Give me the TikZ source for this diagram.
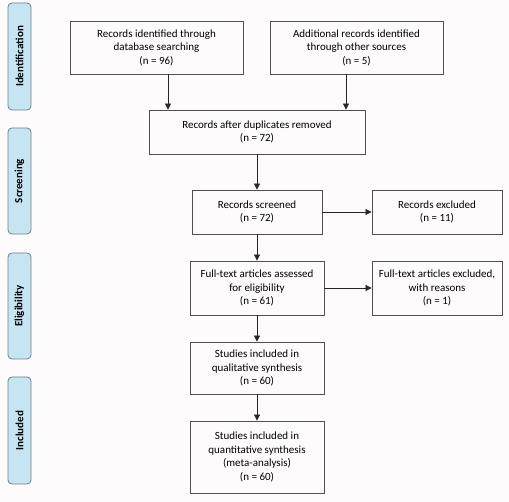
\documentclass[tikz,border=0pt]{standalone}
\usepackage{fontspec}
\setmainfont{Carlito}
\usetikzlibrary{arrows.meta}
\definecolor{lblfill}{HTML}{C6E5F3}
\definecolor{lbldraw}{HTML}{6F7F88}
\definecolor{boxdraw}{HTML}{505050}
\definecolor{bg}{HTML}{FDFBFC}
\tikzset{
  flowbox/.style={draw=boxdraw, line width=0.8pt, align=center, font=\fontsize{11}{13.5}\selectfont, inner sep=0pt},
  phase/.style={draw=lbldraw, fill=lblfill, line width=0.8pt, rounded corners=4pt, inner sep=0pt, minimum height=23pt, font=\bfseries\fontsize{11}{12}\selectfont, rotate=90},
  flow/.style={draw=black!85, line width=0.7pt, -{Triangle[length=6pt,width=6pt]}}
}
\begin{document}
\begin{tikzpicture}[x=1pt,y=-1pt]
\fill[bg] (0,0) rectangle (509,502);
\useasboundingbox (0,0) rectangle (509,502);
% phase labels
\node[phase, minimum width=107pt] (pid) at (19.5,56.5) {Identification};
\node[phase, minimum width=106pt] (psc) at (19.5,181) {Screening};
\node[phase, minimum width=106pt] (pel) at (19.5,306) {Eligibility};
\node[phase, minimum width=107pt] (pin) at (19.5,430.5) {Included};
% boxes
\node[flowbox, minimum width=173pt, minimum height=53pt] (db) at (156.5,47.5) {Records identified through\\database searching\\(n = 96)};
\node[flowbox, minimum width=173pt, minimum height=53pt] (oth) at (356.5,47.5) {Additional records identified\\through other sources\\(n = 5)};
\node[flowbox, minimum width=216pt, minimum height=44pt] (dup) at (257,132) {Records after duplicates removed\\(n = 72)};
\node[flowbox, minimum width=130pt, minimum height=44pt] (scr) at (257,212) {Records screened\\(n = 72)};
\node[flowbox, minimum width=130pt, minimum height=44pt] (exc) at (437,212) {Records excluded\\(n = 11)};
\node[flowbox, minimum width=134pt, minimum height=54pt] (ft) at (257,288) {Full-text articles assessed\\for eligibility\\(n = 61)};
\node[flowbox, minimum width=130pt, minimum height=54pt] (ftx) at (437,288) {Full-text articles excluded,\\with reasons\\(n = 1)};
\node[flowbox, minimum width=134pt, minimum height=52pt] (qual) at (257,368) {Studies included in\\qualitative synthesis\\(n = 60)};
\node[flowbox, minimum width=134pt, minimum height=72pt] (quant) at (257,457) {Studies included in\\quantitative synthesis\\(meta-analysis)\\(n = 60)};
% connectors
\draw[flow] (db.south -| 168,0) -- (dup.north -| 168,0);
\draw[flow] (oth.south -| 346,0) -- (dup.north -| 346,0);
\draw[flow] (dup) -- (scr);
\draw[flow] (scr) -- (exc);
\draw[flow] (scr) -- (ft);
\draw[flow] (ft) -- (ftx);
\draw[flow] (ft) -- (qual);
\draw[flow] (qual) -- (quant);
\end{tikzpicture}
\end{document}
